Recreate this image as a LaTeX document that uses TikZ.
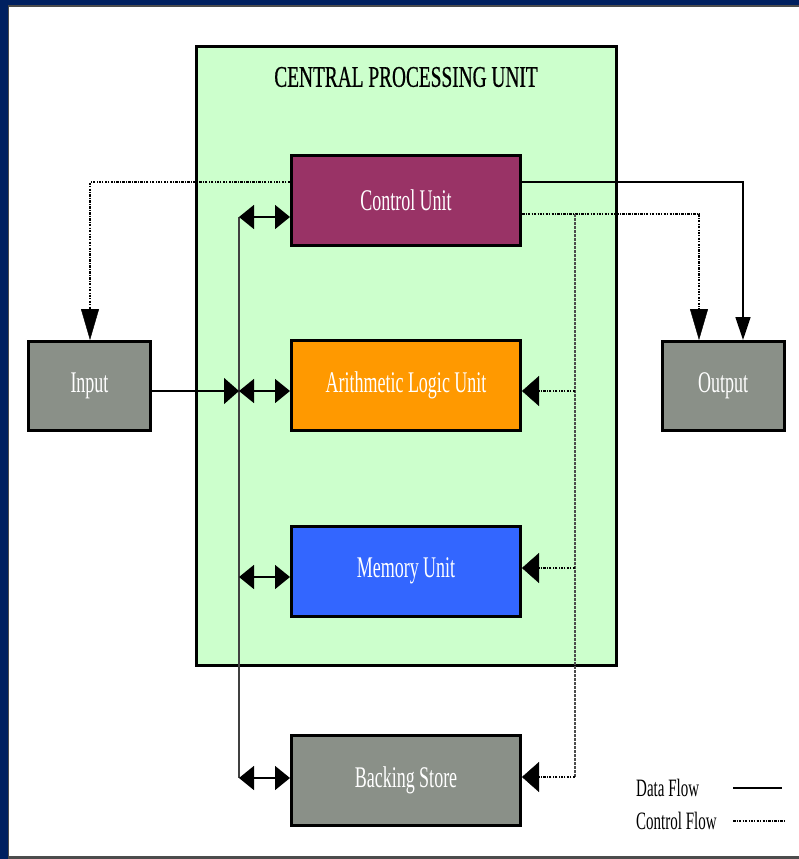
\documentclass[tikz,border=0pt]{standalone}
\usepackage{fontspec}
\setmainfont{Liberation Serif}
\newfontfamily\boxfont{Liberation Serif}[FakeStretch=0.6]
\newfontfamily\titlefont{Liberation Serif}[FakeStretch=0.645,FakeBold=0.6]
\usetikzlibrary{arrows.meta}
\definecolor{frameblue}{RGB}{0,32,96}
\definecolor{cpugreen}{RGB}{204,255,204}
\definecolor{cumaroon}{RGB}{153,51,102}
\definecolor{aluorange}{RGB}{255,153,0}
\definecolor{memblue}{RGB}{51,102,255}
\definecolor{boxgray}{RGB}{138,144,136}
\tikzset{
  unitbox/.style={draw=black, line width=3pt, minimum width=229pt, minimum height=90pt,
    inner sep=0pt, text=white, font=\boxfont\fontsize{30}{30}\selectfont},
  iobox/.style={unitbox, fill=boxgray, minimum width=122pt, minimum height=89pt},
  dataline/.style={line width=1.5pt, draw=black},
  busline/.style={line width=1.5pt, draw=black!75},
  ctrlline/.style={line width=1.8pt, draw=black, dash pattern=on 2.5pt off 1.2pt on 1pt off 1.2pt},
  ctrlvert/.style={line width=1.2pt, draw=black!70, dash pattern=on 2.5pt off 1.5pt},
  bigdown/.style={-{Triangle[length=31pt,width=18pt]}},
  smalldown/.style={-{Triangle[length=23pt,width=15pt]}},
  busdbl/.style={{Triangle[length=15pt,width=24pt]}-{Triangle[length=15pt,width=24pt]}},
  busin/.style={-{Triangle[length=15pt,width=26pt]}},
  ctrlin/.style={-{Triangle[length=17pt,width=30pt]}},
  legendtext/.style={font=\boxfont\fontsize{25}{25}\selectfont, text=black, inner sep=0pt, anchor=west}
}
\begin{document}
\begin{tikzpicture}[x=1pt,y=-1pt]
\useasboundingbox (0,0) rectangle (799,859);
% frame
\fill[frameblue] (0,0) rectangle (799,859);
\fill[black!70] (8,5) rectangle (799,859);
\fill[white] (9,7) rectangle (799,856);
% CPU
\node[draw=black, line width=3pt, fill=cpugreen, minimum width=420pt, minimum height=619pt, inner sep=0pt] (cpu) at (406.5,356) {};
\node[font=\titlefont\fontsize{30}{30}\selectfont, inner sep=0pt] (title) at (406,77) {CENTRAL PROCESSING UNIT};
% units
\node[unitbox, fill=cumaroon] (cu) at (406,200.5) {Control Unit};
\node[unitbox, fill=aluorange] (alu) at (406,385.5) {Arithmetic Logic Unit};
\node[unitbox, fill=memblue] (mem) at (406,571) {Memory Unit};
\node[unitbox, fill=boxgray] (bs) at (406,780.5) {Backing Store};
\node[iobox] (inp) at (89.5,386) {Input};
\node[iobox] (outp) at (723,386) {Output};
% bus
\coordinate (b1) at (239,217);
\coordinate (b2) at (239,391);
\coordinate (b3) at (239,577);
\coordinate (b4) at (239,778);
\draw[busline] (b1) -- (b4);
\draw[dataline, busdbl] (b1) -- (cu.west |- b1);
\draw[dataline, busdbl] (b2) -- (alu.west |- b2);
\draw[dataline, busdbl] (b3) -- (mem.west |- b3);
\draw[dataline, busdbl] (b4) -- (bs.west |- b4);
\draw[dataline, busin] (inp.east |- b2) -- (b2);
% control to input
\coordinate (c0) at (90,182);
\draw[ctrlline] (cu.west |- c0) -- (c0) -- ([yshift=30pt]c0 |- inp.north);
\draw[bigdown] ([yshift=31pt]c0 |- inp.north) -- (c0 |- inp.north);
% data to output
\coordinate (s0) at (743,182);
\draw[dataline, smalldown] (cu.east |- s0) -- (s0) -- (s0 |- outp.north);
% control to output
\coordinate (d0) at (699,214);
\draw[ctrlline] (cu.east |- d0) -- (d0) -- ([yshift=30pt]d0 |- outp.north);
\draw[bigdown] ([yshift=31pt]d0 |- outp.north) -- (d0 |- outp.north);
% control distribution
\coordinate (v0) at (575,214);
\coordinate (v1) at (575,391);
\coordinate (v2) at (575,568);
\coordinate (v3) at (575,777);
\draw[ctrlvert] (v0) -- (v3);
\draw[ctrlline] (v1) -- ([xshift=16pt]alu.east |- v1);
\draw[ctrlin] ([xshift=17pt]alu.east |- v1) -- (alu.east |- v1);
\draw[ctrlline] (v2) -- ([xshift=16pt]mem.east |- v2);
\draw[ctrlin] ([xshift=17pt]mem.east |- v2) -- (mem.east |- v2);
\draw[ctrlline] (v3) -- ([xshift=16pt]bs.east |- v3);
\draw[ctrlin] ([xshift=17pt]bs.east |- v3) -- (bs.east |- v3);
% legend
\node[legendtext] (ldata) at (636,788) {Data Flow};
\node[legendtext] (lctrl) at (636,821) {Control Flow};
\coordinate (l1a) at (733,788);
\coordinate (l1b) at (782,788);
\coordinate (l2a) at (733,821);
\coordinate (l2b) at (786,821);
\draw[dataline] (l1a) -- (l1b);
\draw[ctrlline, line width=1.2pt] (l2a) -- (l2b);
\end{tikzpicture}
\end{document}
